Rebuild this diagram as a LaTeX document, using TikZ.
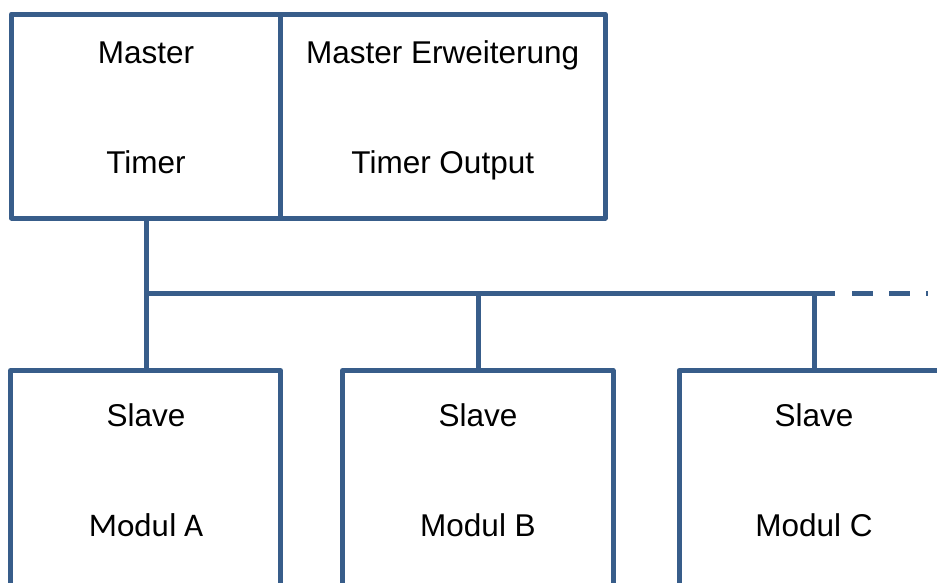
\documentclass[tikz,border=0pt]{standalone}
\usepackage{fontspec}
\setmainfont{Liberation Sans}
\newfontfamily\calfont{Carlito}
\definecolor{boxblue}{RGB}{56,93,138}
\begin{document}
\begin{tikzpicture}[x=1pt,y=-1pt,
  frame/.style={draw=boxblue,line width=5pt,line join=round,rectangle,inner sep=0pt,outer sep=0pt,anchor=north west},
  wire/.style={draw=boxblue,line width=5pt},
  lbl/.style={font=\fontsize{31.5}{34}\selectfont,inner sep=0pt,anchor=base}]
\useasboundingbox (0,0) rectangle (937,582);
\clip (0,0) rectangle (937,582);
% top boxes
\node[frame,minimum width=269pt,minimum height=204pt] (master) at (11.5,14) {};
\node[frame,minimum width=324.5pt,minimum height=204pt] (ext) at (280.5,14) {};
% slave boxes (open past bottom edge)
\node[frame,minimum width=270pt,minimum height=260pt] (sA) at (10.5,370.5) {};
\node[frame,minimum width=270.5pt,minimum height=260pt] (sB) at (342.5,370.5) {};
\node[frame,minimum width=270pt,minimum height=260pt] (sC) at (679,370.5) {};
% labels
\node[lbl] (t1) at (146,63) {Master};
\node[lbl] (t2) at (146,173) {Timer};
\node[lbl] (t3) at (442.75,63) {Master Erweiterung};
\node[lbl] (t4) at (442.75,173) {Timer Output};
\node[lbl] (t5) at (146,426.5) {Slave};
\node[lbl,font=\calfont\fontsize{33}{36}\selectfont] (t6) at (146,536.5) {Modul A};
\node[lbl] (t7) at (478,426.5) {Slave};
\node[lbl] (t8) at (478,536.5) {Modul B};
\node[lbl] (t9) at (814,426.5) {Slave};
\node[lbl] (t10) at (814,536.5) {Modul C};
% bus
\coordinate (jA) at (146,293);
\coordinate (jB) at (478,293);
\coordinate (jC) at (814,293);
\coordinate (bEnd) at (835,293);
\coordinate (dStart) at (852,293);
\coordinate (dEnd) at (928,293);
\draw[wire] (master.south -| jA) -- (jA);
\draw[wire] (jA) -- (sA.north -| jA);
\draw[wire] (jB) -- (sB.north -| jB);
\draw[wire] (jC) -- (sC.north -| jC);
\draw[wire] (jA) -- (bEnd);
\draw[wire,dash pattern=on 21pt off 16pt] (dStart) -- (dEnd);
\end{tikzpicture}
\end{document}
